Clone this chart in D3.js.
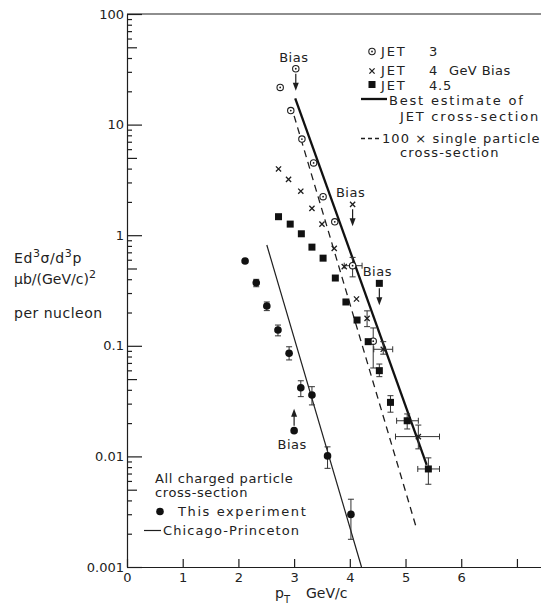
<!DOCTYPE html>
<html>
<head>
<meta charset="utf-8">
<script src="https://cdn.jsdelivr.net/npm/d3@7"></script>
<style>
  body { margin: 0; background: #fff; }
  svg text { font-family: "DejaVu Sans", sans-serif; fill: #222; }
</style>
</head>
<body>
<div id="chart"></div>
<script>
// JET 3 GeV bias (open circles)
const jet3 = [
  { pt: 2.75, v: 21.7 }, { pt: 2.94, v: 13.4 }, { pt: 3.14, v: 7.4 },
  { pt: 3.35, v: 4.5 }, { pt: 3.52, v: 2.23 }, { pt: 3.73, v: 1.32 },
  { pt: 4.05, v: 0.53, ylo: 0.42, yhi: 0.63, xlo: 3.90, xhi: 4.22 },
  { pt: 4.42, v: 0.110, ylo: 0.063, yhi: 0.145 }
];
// JET 4 GeV bias (crosses)
const jet4 = [
  { pt: 2.72, v: 3.97 }, { pt: 2.90, v: 3.2 }, { pt: 3.12, v: 2.5 },
  { pt: 3.32, v: 1.75 }, { pt: 3.50, v: 1.26 }, { pt: 3.72, v: 0.76 },
  { pt: 3.90, v: 0.52 }, { pt: 4.12, v: 0.265 },
  { pt: 4.31, v: 0.177, ylo: 0.149, yhi: 0.207 },
  { pt: 4.60, v: 0.093, ylo: 0.084, yhi: 0.109, xlo: 4.43, xhi: 4.77 },
  { pt: 5.23, v: 0.0151, ylo: 0.0117, yhi: 0.0192, xlo: 4.82, xhi: 5.61 }
];
// JET 4.5 GeV bias (filled squares)
const jet45 = [
  { pt: 2.72, v: 1.47 }, { pt: 2.93, v: 1.26 }, { pt: 3.13, v: 1.03 },
  { pt: 3.32, v: 0.78 }, { pt: 3.52, v: 0.62 }, { pt: 3.74, v: 0.41 },
  { pt: 3.93, v: 0.249 }, { pt: 4.13, v: 0.171 }, { pt: 4.33, v: 0.109 },
  { pt: 4.53, v: 0.0596, ylo: 0.0526, yhi: 0.0684 },
  { pt: 4.73, v: 0.0308, ylo: 0.0251, yhi: 0.0354 },
  { pt: 5.03, v: 0.0210, ylo: 0.0177, yhi: 0.0242, xlo: 4.84, xhi: 5.23 },
  { pt: 5.41, v: 0.0077, ylo: 0.0056, yhi: 0.0097, xlo: 5.22, xhi: 5.61 }
];
// all charged particle cross-section, this experiment (filled circles)
const thisExp = [
  { pt: 2.12, v: 0.585 },
  { pt: 2.32, v: 0.372, ylo: 0.342, yhi: 0.399 },
  { pt: 2.51, v: 0.229, ylo: 0.208, yhi: 0.249 },
  { pt: 2.71, v: 0.139, ylo: 0.123, yhi: 0.154 },
  { pt: 2.91, v: 0.0855, ylo: 0.0745, yhi: 0.098 },
  { pt: 3.12, v: 0.0418, ylo: 0.0347, yhi: 0.0483 },
  { pt: 3.32, v: 0.0359, ylo: 0.0292, yhi: 0.0427 },
  { pt: 3.60, v: 0.0101, ylo: 0.0078, yhi: 0.0122 },
  { pt: 4.02, v: 0.00299, ylo: 0.00178, yhi: 0.0041 }
];
// bias points with arrows
const biasPoints = [
  { kind: 'jet3', pt: 3.03, v: 32, dir: 'down' },
  { kind: 'jet4', pt: 4.05, v: 1.90, dir: 'down' },
  { kind: 'jet45', pt: 4.53, v: 0.367, dir: 'down' },
  { kind: 'thisExp', pt: 3.00, v: 0.0171, dir: 'up' }
];
// lines [pT, value]
const bestEstimate = [[3.02, 17.3], [5.38, 0.0084]];
const singleParticle100 = [[3.00, 12], [5.19, 0.0023]];
const chicagoPrinceton = [[2.51, 0.815], [4.21, 0.001]];

const xTickVals = [0, 1, 2, 3, 4, 5, 6, 7];
const xTickLabels = ['0', '1', '2', '3', '4', '5', '6', ''];
const yTickLabels = ['0.001', '0.01', '0.1', '1', '10', '100'];

const W = 541, H = 615;
const svg = d3.select('#chart').append('svg').attr('width', W).attr('height', H);

const x = d3.scaleLinear().domain([0, 7.45]).range([127, 542]);
const y = d3.scaleLog().domain([0.001, 100]).range([567, 14]);

const ink = '#1e1e1e';

// top frame edge
svg.append('line')
  .attr('x1', x(0)).attr('x2', x(7.45))
  .attr('y1', y(100)).attr('y2', y(100))
  .attr('stroke', ink).attr('stroke-width', 1.2);

// y axis: decades labelled, inside ticks (long / medium at 5 / short)
const yTickVals = [];
d3.range(-3, 2).forEach(e => d3.range(1, 10).forEach(m => yTickVals.push(+(m * Math.pow(10, e)).toPrecision(3))));
yTickVals.push(100);

const yAxisG = svg.append('g')
  .attr('transform', `translate(${x(0)},0)`)
  .call(d3.axisLeft(y).tickValues(yTickVals).tickSizeInner(-5).tickSizeOuter(0).tickPadding(3)
    .tickFormat((d, i) => i % 9 === 0 ? yTickLabels[i / 9] : ''));
yAxisG.selectAll('.tick line').attr('x2', (d, i) => i % 9 === 0 ? 15 : (i % 9 === 4 ? 10 : 5));

const xAxisG = svg.append('g')
  .attr('transform', `translate(0,${y(0.001)})`)
  .call(d3.axisBottom(x).tickValues(xTickVals).tickSizeInner(-8).tickSizeOuter(0).tickPadding(6)
    .tickFormat((d, i) => xTickLabels[i]));

[yAxisG, xAxisG].forEach(g => {
  g.attr('font-size', 13);
  g.selectAll('path, line').attr('stroke', ink).attr('stroke-width', 1.2);
});

// lines
const lineGen = d3.line().x(d => x(d[0])).y(d => y(d[1]));
svg.append('path').datum(chicagoPrinceton).attr('d', lineGen)
  .attr('fill', 'none').attr('stroke', ink).attr('stroke-width', 1.2);
svg.append('path').datum(singleParticle100).attr('d', lineGen)
  .attr('fill', 'none').attr('stroke', ink).attr('stroke-width', 1.3).attr('stroke-dasharray', '7,5');
svg.append('path').datum(bestEstimate).attr('d', lineGen)
  .attr('fill', 'none').attr('stroke', '#111').attr('stroke-width', 2.3);

// error bars
const errG = svg.append('g').attr('stroke', '#333').attr('stroke-width', 1);
[jet3, jet4, jet45, thisExp].forEach(series => {
  series.forEach(d => {
    if (d.ylo !== undefined) {
      const cx = x(d.pt);
      errG.append('line').attr('x1', cx).attr('x2', cx).attr('y1', y(d.ylo)).attr('y2', y(d.yhi));
      [d.ylo, d.yhi].forEach(v => errG.append('line')
        .attr('x1', cx - 3).attr('x2', cx + 3).attr('y1', y(v)).attr('y2', y(v)));
    }
    if (d.xlo !== undefined) {
      const cy = y(d.v);
      errG.append('line').attr('x1', x(d.xlo)).attr('x2', x(d.xhi)).attr('y1', cy).attr('y2', cy);
      [d.xlo, d.xhi].forEach(p => errG.append('line')
        .attr('x1', x(p)).attr('x2', x(p)).attr('y1', cy - 3).attr('y2', cy + 3));
    }
  });
});

// markers
function marker(g, kind, cx, cy) {
  if (kind === 'jet3') {
    g.append('circle').attr('cx', cx).attr('cy', cy).attr('r', 3.2)
      .attr('fill', '#fff').attr('stroke', ink).attr('stroke-width', 1.1);
    g.append('circle').attr('cx', cx).attr('cy', cy).attr('r', 0.9).attr('fill', ink);
  } else if (kind === 'jet4') {
    const s = 2.6;
    g.append('path').attr('d', `M${cx - s},${cy - s}L${cx + s},${cy + s}M${cx - s},${cy + s}L${cx + s},${cy - s}`)
      .attr('stroke', ink).attr('stroke-width', 1.3);
  } else if (kind === 'jet45') {
    g.append('rect').attr('x', cx - 3.5).attr('y', cy - 3.5).attr('width', 7).attr('height', 7).attr('fill', '#111');
  } else {
    g.append('circle').attr('cx', cx).attr('cy', cy).attr('r', 3.8).attr('fill', '#111');
  }
}

const markG = svg.append('g');
[['jet3', jet3], ['jet4', jet4], ['jet45', jet45], ['thisExp', thisExp]].forEach(([kind, series]) => {
  series.forEach(d => marker(markG, kind, x(d.pt), y(d.v)));
});

// bias points with arrows and labels
biasPoints.forEach(b => {
  const cx = x(b.pt), cy = y(b.v);
  marker(markG, b.kind, cx, cy);
  const sgn = b.dir === 'down' ? 1 : -1;
  const start = cy + sgn * 5, tip = cy + sgn * 22;
  markG.append('line').attr('x1', cx).attr('x2', cx).attr('y1', start).attr('y2', tip - sgn * 6)
    .attr('stroke', ink).attr('stroke-width', 1.2);
  markG.append('path')
    .attr('d', `M${cx - 3},${tip - sgn * 8}L${cx + 3},${tip - sgn * 8}L${cx},${tip}Z`)
    .attr('fill', ink);
  svg.append('text')
    .attr('x', cx - 2).attr('y', b.dir === 'down' ? cy - 7 : cy + 18)
    .attr('text-anchor', 'middle').attr('font-size', 13).attr('letter-spacing', 0.5)
    .text('Bias');
});

// top-right legend
const leg = svg.append('g').attr('font-size', 13).attr('letter-spacing', 1.8);
marker(leg, 'jet3', 372, 51.5);
marker(leg, 'jet4', 372, 71);
marker(leg, 'jet45', 372, 84.5);
[['3', 55.5], ['4', 75], ['4.5', 89.5]].forEach(([lab, by]) => {
  leg.append('text').attr('x', 381).attr('y', by).text('JET');
  leg.append('text').attr('x', 429).attr('y', by).attr('letter-spacing', 0.8).text(lab);
});
leg.append('text').attr('x', 449).attr('y', 75).attr('letter-spacing', 0.4).text('GeV Bias');
leg.append('line').attr('x1', 361).attr('x2', 387).attr('y1', 99).attr('y2', 99)
  .attr('stroke', '#111').attr('stroke-width', 2.3);
leg.append('text').attr('x', 389).attr('y', 105).text('Best estimate of');
leg.append('text').attr('x', 400).attr('y', 120.5).text('JET cross-section');
leg.append('line').attr('x1', 361).attr('x2', 380).attr('y1', 138.5).attr('y2', 138.5)
  .attr('stroke', ink).attr('stroke-width', 1.3).attr('stroke-dasharray', '4,3');
leg.append('text').attr('x', 382).attr('y', 142.5).attr('letter-spacing', 1.1).text('100 × single particle');
leg.append('text').attr('x', 400).attr('y', 157).attr('letter-spacing', 1.1).text('cross-section');

// bottom-left legend
const leg2 = svg.append('g').attr('font-size', 13).attr('letter-spacing', 0.6);
leg2.append('text').attr('x', 155).attr('y', 483).text('All charged particle');
leg2.append('text').attr('x', 155).attr('y', 497).text('cross-section');
marker(leg2, 'thisExp', 160, 511.5);
leg2.append('text').attr('x', 178).attr('y', 516).attr('letter-spacing', 1.6).text('This experiment');
leg2.append('line').attr('x1', 144).attr('x2', 161).attr('y1', 530.5).attr('y2', 530.5)
  .attr('stroke', ink).attr('stroke-width', 1.2);
leg2.append('text').attr('x', 163).attr('y', 534.5).attr('letter-spacing', 1.1).text('Chicago-Princeton');

// y-axis title
const yt = svg.append('g').attr('font-size', 14);
const t1 = yt.append('text').attr('x', 14).attr('y', 263).attr('letter-spacing', 0.6);
t1.append('tspan').text('Ed');
t1.append('tspan').attr('dy', -6).attr('font-size', 11).text('3');
t1.append('tspan').attr('dy', 6).text('σ/d');
t1.append('tspan').attr('dy', -6).attr('font-size', 11).text('3');
t1.append('tspan').attr('dy', 6).text('p');
const t2 = yt.append('text').attr('x', 14).attr('y', 284);
t2.append('tspan').text('μb/(GeV/c)');
t2.append('tspan').attr('dy', -6).attr('font-size', 11).text('2');
yt.append('text').attr('x', 14).attr('y', 318).attr('letter-spacing', 0.5).text('per nucleon');

// x-axis title
const xt = svg.append('text').attr('x', 275).attr('y', 598).attr('font-size', 14);
xt.append('tspan').text('p');
xt.append('tspan').attr('dy', 5).attr('font-size', 10).text('T');
xt.append('tspan').attr('x', 306).attr('dy', -5).text('GeV/c');
</script>
</body>
</html>
